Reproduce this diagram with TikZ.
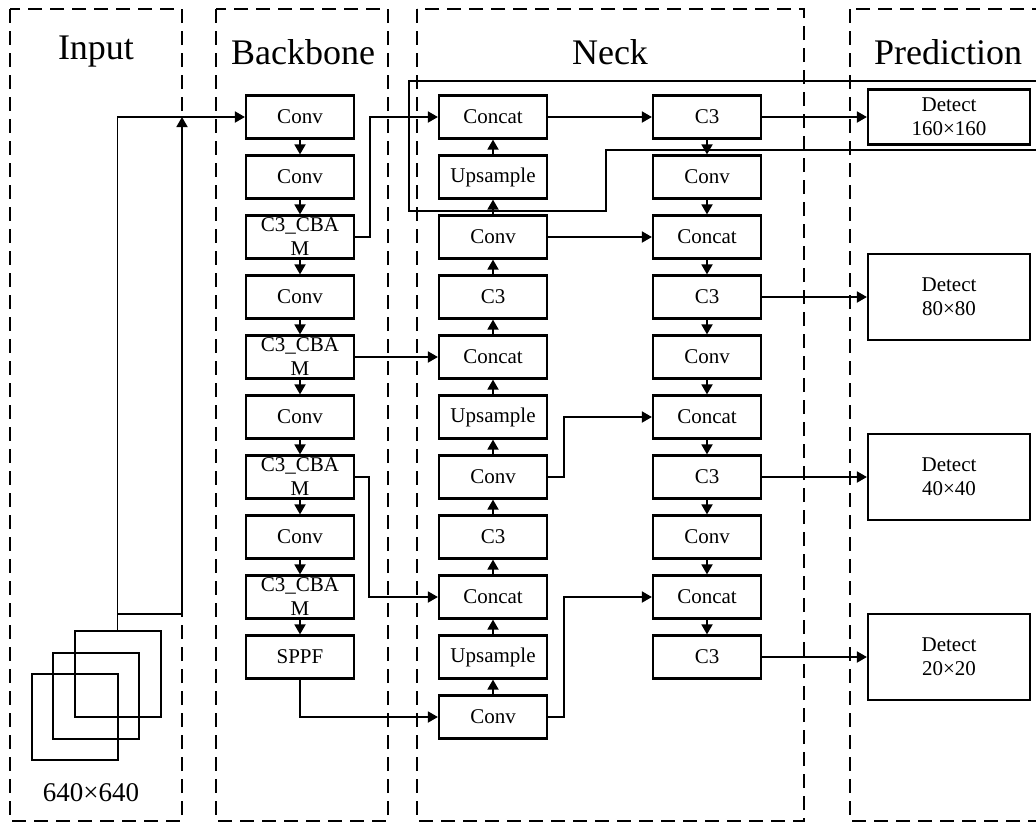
\documentclass[tikz,border=0pt]{standalone}
\usepackage{fontspec}
\setmainfont{Liberation Serif}
\usetikzlibrary{arrows.meta}

\begin{document}
\begin{tikzpicture}[x=1pt, y=-1pt,
          blk/.style={rectangle, draw, line width=2.2pt, minimum width=108pt,
                      minimum height=43pt, inner sep=0pt, align=center,
                      font=\fontsize{21}{24}\selectfont},
          det/.style={blk, minimum width=162pt, minimum height=86pt},
          img/.style={rectangle, draw, line width=2pt, minimum size=86pt, inner sep=0pt},
          frame/.style={draw, line width=2pt, dash pattern=on 14pt off 8pt},
          ttl/.style={font=\fontsize{36}{40}\selectfont},
          arr/.style={-{Triangle[length=10pt, width=11pt]}, line width=1.8pt},
          ln/.style={line width=1.8pt}
        ]
        \clip (0,0) rectangle (1036,823);

        % Panels
        \draw[frame] (10,9)  rectangle (182,821);
        \draw[frame] (216,9) rectangle (388,821);
        \draw[frame] (417,9) rectangle (804,821);
        \draw[frame] (850,9) rectangle (1060,821);

        \node[ttl] (tin)  at (96,52)  {Input};
        \node[ttl] (tbb)  at (303,52) {Backbone};
        \node[ttl] (tnk)  at (610,52) {Neck};
        \node[ttl] (tpr)  at (948,52) {Prediction};

        % Input image
        \node[img] (sqa) at (117.5,674) {};
        \node[img] (sqb) at (96,695.5)  {};
        \node[img] (sqc) at (75,717)    {};
        \node[font=\fontsize{27}{30}\selectfont] (res) at (91,793) {640×640};

        % Backbone
        \node[blk] (b1)  at (300,117) {Conv};
        \node[blk] (b2)  at (300,177) {Conv};
        \node[blk] (b3)  at (300,237) {C3\_CBA\\M};
        \node[blk] (b4)  at (300,297) {Conv};
        \node[blk] (b5)  at (300,357) {C3\_CBA\\M};
        \node[blk] (b6)  at (300,417) {Conv};
        \node[blk] (b7)  at (300,477) {C3\_CBA\\M};
        \node[blk] (b8)  at (300,537) {Conv};
        \node[blk] (b9)  at (300,597) {C3\_CBA\\M};
        \node[blk] (b10) at (300,657) {SPPF};

        % Neck, upward path
        \node[blk] (n1)  at (493,117) {Concat};
        \node[blk] (n2)  at (493,177) {Upsample};
        \node[blk] (n3)  at (493,237) {Conv};
        \node[blk] (n4)  at (493,297) {C3};
        \node[blk] (n5)  at (493,357) {Concat};
        \node[blk] (n6)  at (493,417) {Upsample};
        \node[blk] (n7)  at (493,477) {Conv};
        \node[blk] (n8)  at (493,537) {C3};
        \node[blk] (n9)  at (493,597) {Concat};
        \node[blk] (n10) at (493,657) {Upsample};
        \node[blk] (n11) at (493,717) {Conv};

        % Neck, downward path
        \node[blk] (m1)  at (707,117) {C3};
        \node[blk] (m2)  at (707,177) {Conv};
        \node[blk] (m3)  at (707,237) {Concat};
        \node[blk] (m4)  at (707,297) {C3};
        \node[blk] (m5)  at (707,357) {Conv};
        \node[blk] (m6)  at (707,417) {Concat};
        \node[blk] (m7)  at (707,477) {C3};
        \node[blk] (m8)  at (707,537) {Conv};
        \node[blk] (m9)  at (707,597) {Concat};
        \node[blk] (m10) at (707,657) {C3};

        % Prediction
        \node[det, minimum height=55pt] (d1) at (949,117) {Detect\\160×160};
        \node[det] (d2) at (949,297) {Detect\\80×80};
        \node[det] (d3) at (949,477) {Detect\\40×40};
        \node[det] (d4) at (949,657) {Detect\\20×20};

        % Input links
        \coordinate (jn) at (117.5,614);
        \coordinate (up) at (182,117);
        \draw[arr] (sqa.north) |- (b1.west);
        \draw[arr] (jn) -| (up);

        % Backbone chain
        \draw[arr] (b1) -- (b2);
        \draw[arr] (b2) -- (b3);
        \draw[arr] (b3) -- (b4);
        \draw[arr] (b4) -- (b5);
        \draw[arr] (b5) -- (b6);
        \draw[arr] (b6) -- (b7);
        \draw[arr] (b7) -- (b8);
        \draw[arr] (b8) -- (b9);
        \draw[arr] (b9) -- (b10);

        % Backbone to neck
        \draw[arr] (b3.east) -- ++(15,0) |- (n1.west);
        \draw[arr] (b5) -- (n5);
        \draw[arr] (b7.east) -- ++(14,0) |- (n9.west);
        \draw[arr] (b10.south) |- (n11.west);

        % Upward path
        \draw[arr] (n11) -- (n10);
        \draw[arr] (n10) -- (n9);
        \draw[arr] (n9)  -- (n8);
        \draw[arr] (n8)  -- (n7);
        \draw[arr] (n7)  -- (n6);
        \draw[arr] (n6)  -- (n5);
        \draw[arr] (n5)  -- (n4);
        \draw[arr] (n4)  -- (n3);
        \draw[arr] (n3)  -- (n2);
        \draw[arr] (n2)  -- (n1);

        % Across the neck
        \draw[arr] (n1) -- (m1);
        \draw[arr] (n3) -- (m3);
        \draw[arr] (n7.east)  -- ++(16,0) |- (m6.west);
        \draw[arr] (n11.east) -- ++(16,0) |- (m9.west);

        % Downward path
        \draw[arr] (m1) -- (m2);
        \draw[arr] (m2) -- (m3);
        \draw[arr] (m3) -- (m4);
        \draw[arr] (m4) -- (m5);
        \draw[arr] (m5) -- (m6);
        \draw[arr] (m6) -- (m7);
        \draw[arr] (m7) -- (m8);
        \draw[arr] (m8) -- (m9);
        \draw[arr] (m9) -- (m10);

        % Heads
        \draw[arr] (m1)  -- (d1);
        \draw[arr] (m4)  -- (d2);
        \draw[arr] (m7)  -- (d3);
        \draw[arr] (m10) -- (d4);

        % Stray outline
        \coordinate (sa) at (1045,81);
        \coordinate (sb) at (1045,150);
        \draw[ln] (sa) -- (409,81) -- (409,211) -- (606,211) -- (606,150) -- (sb);
      \end{tikzpicture}
\end{document}
